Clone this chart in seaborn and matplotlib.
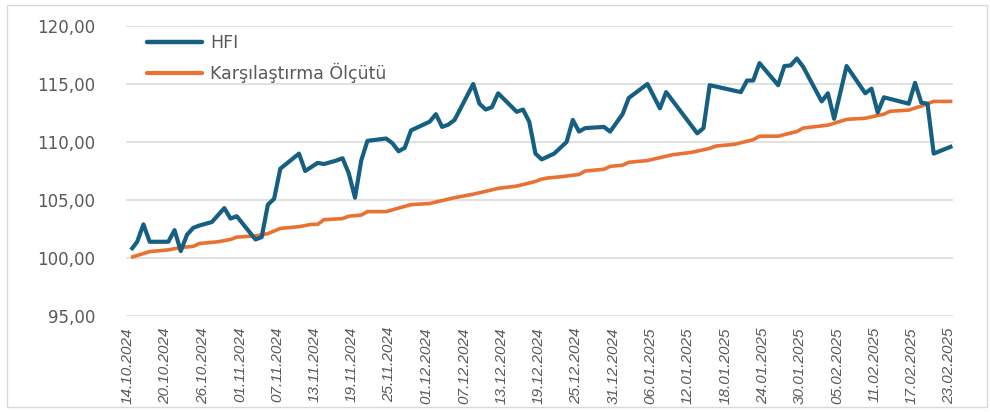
import matplotlib
matplotlib.use("Agg")
import matplotlib.pyplot as plt
import matplotlib.dates as mdates
from matplotlib.patches import Rectangle
from matplotlib.transforms import ScaledTranslation
import pandas as pd
import seaborn as sns

# HFI fund index, turning points of the daily series (day offset from 14.10.2024)
hfi_days = [0, 1, 2, 3, 6, 7, 8, 9, 10, 11, 13, 15, 16, 17, 20, 21, 22, 23, 24, 27,
            28, 30, 31, 33, 34, 35, 36, 37, 38, 41, 42, 43, 44, 45, 48, 49, 50, 51,
            52, 55, 56, 57, 58, 59, 62, 63, 64, 65, 66, 68, 70, 71, 72, 73, 76, 77,
            79, 80, 83, 85, 86, 91, 92, 93, 98, 99, 100, 101, 104, 105, 106, 107,
            108, 111, 112, 113, 115, 118, 119, 120, 121, 125, 126, 127, 128, 129, 132]
hfi_values = [100.7, 101.4, 102.9, 101.4, 101.4, 102.4, 100.6, 102.0, 102.6, 102.8,
              103.1, 104.3, 103.4, 103.6, 101.6, 101.8, 104.6, 105.1, 107.7, 109.0,
              107.5, 108.2, 108.1, 108.4, 108.6, 107.3, 105.2, 108.4, 110.1, 110.3,
              109.9, 109.2, 109.5, 111.0, 111.75, 112.4, 111.3, 111.5, 111.9, 115.0,
              113.3, 112.8, 113.0, 114.2, 112.6, 112.8, 111.75, 109.0, 108.5, 109.0,
              110.0, 111.9, 110.9, 111.2, 111.3, 110.9, 112.4, 113.8, 115.0, 112.9,
              114.3, 110.75, 111.2, 114.9, 114.3, 115.3, 115.3, 116.8, 114.9, 116.55,
              116.6, 117.2, 116.5, 113.5, 114.2, 112.0, 116.55, 114.2, 114.6, 112.55,
              113.85, 113.3, 115.1, 113.4, 113.3, 109.0, 109.65]

# Benchmark (Karşılaştırma Ölçütü), turning points of the daily series
bench_days = [0, 3, 6, 8, 10, 11, 14, 16, 17, 20, 22, 24, 27, 29, 30, 31, 34, 35, 37,
              38, 41, 45, 48, 52, 55, 59, 62, 65, 66, 67, 69, 72, 73, 76, 77, 79, 80,
              83, 85, 87, 90, 93, 94, 97, 100, 101, 104, 107, 108, 112, 115, 118, 121,
              122, 125, 127, 129, 132]
bench_values = [100.05, 100.55, 100.7, 100.9, 101.0, 101.25, 101.4, 101.6, 101.8,
                101.9, 102.1, 102.55, 102.7, 102.9, 102.9, 103.3, 103.4, 103.6, 103.7,
                104.0, 104.0, 104.6, 104.7, 105.2, 105.5, 106.0, 106.2, 106.6, 106.8,
                106.9, 107.0, 107.2, 107.5, 107.65, 107.9, 108.0, 108.25, 108.4, 108.65,
                108.9, 109.1, 109.45, 109.65, 109.8, 110.2, 110.5, 110.5, 110.9, 111.2,
                111.45, 111.95, 112.05, 112.4, 112.65, 112.75, 113.1, 113.5, 113.5]

start_date = "2024-10-14"
series_names = ["HFI", "Karşılaştırma Ölçütü"]
y_ticks = [95, 100, 105, 110, 115, 120]

start = pd.Timestamp(start_date)
hfi = pd.DataFrame({"Tarih": start + pd.to_timedelta(hfi_days, unit="D"),
                    "Değer": hfi_values, "Seri": series_names[0]})
bench = pd.DataFrame({"Tarih": start + pd.to_timedelta(bench_days, unit="D"),
                      "Değer": bench_values, "Seri": series_names[1]})
df = pd.concat([hfi, bench], ignore_index=True)

sns.set_theme(style="white")
plt.rcParams["font.family"] = ["DejaVu Sans"]

fig = plt.figure(figsize=(9.9, 4.12), dpi=100)
ax = fig.add_axes([126 / 990, 1 - 316 / 412, (953 - 126) / 990, (316 - 26) / 412])

palette = {series_names[0]: "#156082", series_names[1]: "#E97132"}
sns.lineplot(data=df, x="Tarih", y="Değer", hue="Seri", hue_order=series_names[::-1],
             palette=palette, ax=ax, linewidth=2.6, legend=False)
for line in ax.get_lines():
    line.set_solid_joinstyle("round")
    line.set_solid_capstyle("butt")
# HFI line is a little heavier and drawn above the benchmark
ax.get_lines()[1].set_linewidth(3.0)
ax.get_lines()[1].set_zorder(3)

# axes ranges and ticks
x0 = mdates.date2num(start)
ax.set_xlim(x0 - 0.8, x0 + 132.1)
ax.set_ylim(y_ticks[0], y_ticks[-1])
ax.set_yticks(y_ticks)
ax.set_yticklabels([f"{v:.2f}".replace(".", ",") for v in y_ticks])
tick_dates = pd.date_range(start, "2025-02-23", freq="6D")
ax.set_xticks(mdates.date2num(tick_dates))
ax.set_xticklabels([d.strftime("%d.%m.%Y") for d in tick_dates])

ax.grid(axis="y", color="#D9D9D9", linewidth=1.1)
ax.grid(axis="x", visible=False)
for s in ax.spines.values():
    s.set_visible(False)
ax.set_xlabel("")
ax.set_ylabel("")
ax.tick_params(axis="both", length=0)
ax.tick_params(axis="y", pad=22, labelsize=12, labelcolor="#595959")
ax.tick_params(axis="x", pad=8, labelcolor="#595959")
shift = ScaledTranslation(-3 / 100, 0, fig.dpi_scale_trans)
for lab in ax.get_xticklabels():
    lab.set_rotation(90)
    lab.set_ha("center")
    lab.set_va("top")
    lab.set_fontfamily(["Liberation Sans", "DejaVu Sans"])
    lab.set_fontstyle("italic")
    lab.set_fontsize(11)
    lab.set_transform(lab.get_transform() + shift)

# legend
handles = [plt.Line2D([], [], color=palette[n], linewidth=3.2 if i == 0 else 3.0,
                      solid_capstyle="round") for i, n in enumerate(series_names)]
leg = ax.legend(handles, series_names, loc="upper left", bbox_to_anchor=(0.0085, 1.02),
                frameon=False, handlelength=3.2, handletextpad=0.45,
                labelspacing=0.6, fontsize=12.5, borderaxespad=0.4)
for t in leg.get_texts():
    t.set_color("#595959")

# outer chart frame
fig.patches.append(Rectangle((7 / 990, 5 / 412), 980 / 990, 402 / 412,
                             transform=fig.transFigure, fill=False,
                             edgecolor="#D9D9D9", linewidth=1.0))

fig.savefig("out.png", dpi=100)
